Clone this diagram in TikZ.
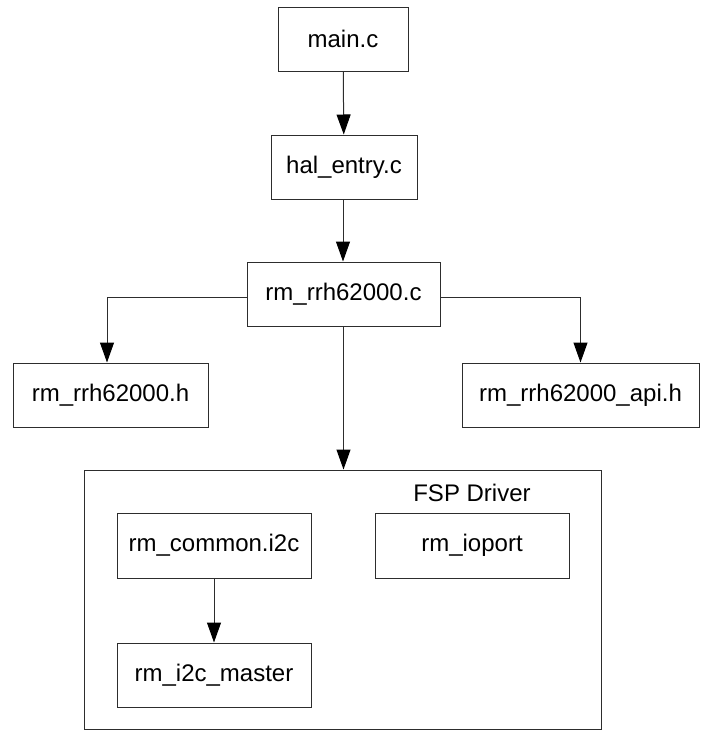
\documentclass[tikz,border=0pt]{standalone}
\usepackage{fontspec}
\setmainfont{Liberation Sans}
\usetikzlibrary{arrows.meta}
\definecolor{linecol}{RGB}{45,45,45}
\begin{document}
\begin{tikzpicture}[x=1pt,y=-1pt,
  filebox/.style={draw=linecol, line width=1pt, inner sep=0pt, minimum height=64pt,
    font=\fontsize{24}{28}\selectfont, text=black},
  conn/.style={draw=linecol, line width=1pt, -{Triangle[length=20pt,width=14pt,color=black]}},
  groupbox/.style={draw=linecol, line width=1pt, inner sep=0pt}]
\useasboundingbox (0,0) rectangle (701,731);
\node[filebox, minimum width=130pt] (main) at (343,39) {main.c};
\node[filebox, minimum width=146pt] (hal) at (344,167) {hal\_entry.c};
\node[filebox, minimum width=193pt] (rrhc) at (343.5,294) {rm\_rrh62000.c};
\node[filebox, minimum width=195pt] (rrhh) at (110.5,395) {rm\_rrh62000.h};
\node[filebox, minimum width=237pt] (api) at (580.5,395) {rm\_rrh62000\_api.h};
\node[groupbox, minimum width=517pt, minimum height=259pt] (fsp) at (342.5,599.5) {};
\node[font=\fontsize{24}{28}\selectfont, inner sep=0pt] (fsplabel) at (472,493) {FSP Driver};
\node[filebox, minimum width=194pt, minimum height=65pt] (common) at (214,545.5) {rm\_common.i2c};
\node[filebox, minimum width=194pt, minimum height=65pt] (ioport) at (472,545.5) {rm\_ioport};
\node[filebox, minimum width=194pt] (master) at (214,675) {rm\_i2c\_master};
\coordinate (lturn) at (107,297);
\coordinate (rturn) at (580.5,297);
\draw[conn] (main) -- (hal);
\draw[conn] (hal.south -| main) -- (rrhc.north -| main);
\draw[conn] (rrhc.west |- lturn) -- (lturn) -- (lturn |- rrhh.north);
\draw[conn] (rrhc.east |- rturn) -- (rturn) -- (api.north);
\draw[conn] (rrhc.south) -- (rrhc.south |- fsp.north);
\draw[conn] (common) -- (master);
\end{tikzpicture}
\end{document}
